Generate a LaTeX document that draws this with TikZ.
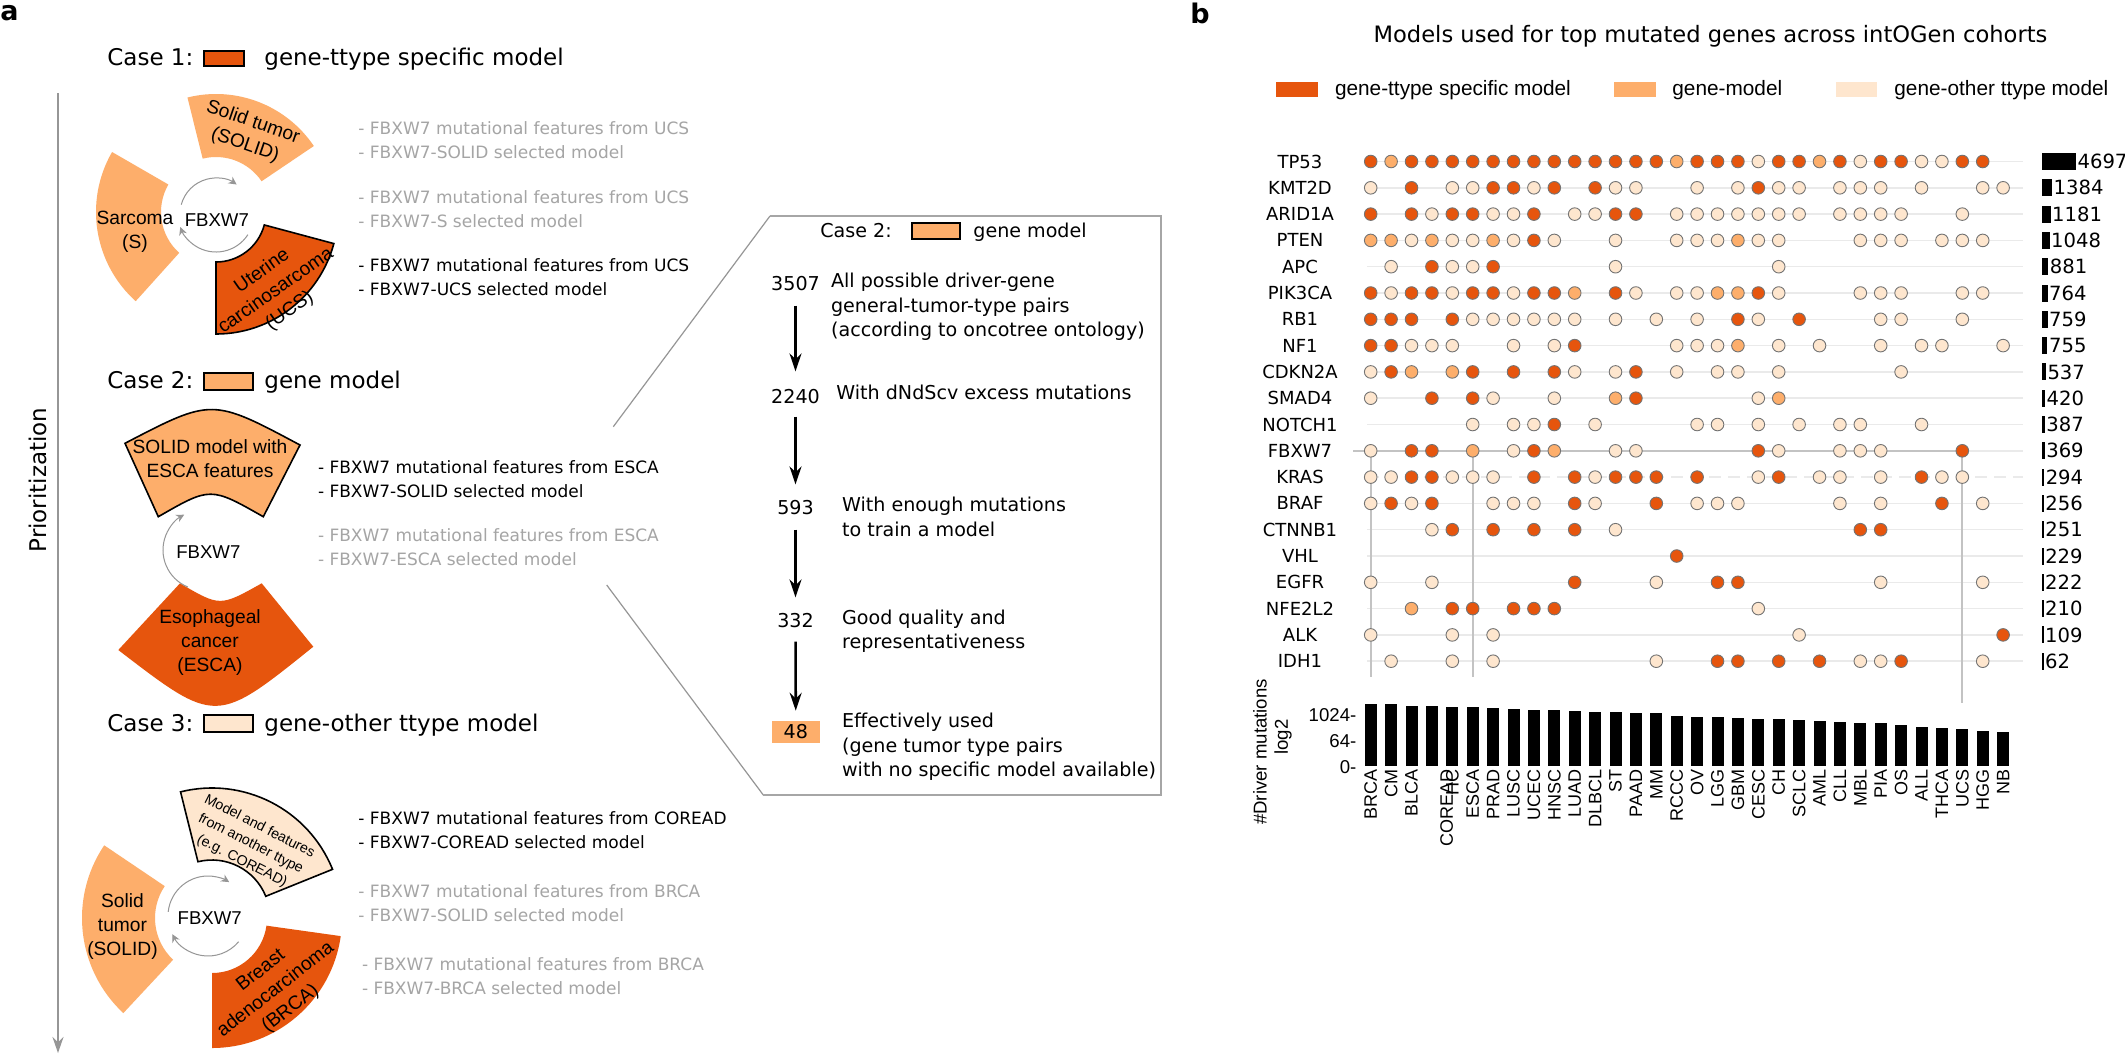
\documentclass[tikz,border=0pt]{standalone}
\usepackage{fontspec}
\setmainfont{DejaVu Sans}
\newfontfamily\arial{Liberation Sans}
\usepackage{tikz}
\usetikzlibrary{arrows.meta}

\definecolor{colD}{RGB}{230,85,13}
\definecolor{colM}{RGB}{253,174,107}
\definecolor{colL}{RGB}{254,230,206}
\colorlet{D}{colD}
\colorlet{M}{colM}
\colorlet{L}{colL}
\definecolor{txtgray}{RGB}{165,165,165}
\definecolor{rowgray}{RGB}{234,234,234}
\definecolor{hlgray}{RGB}{195,195,195}
\definecolor{linegray}{RGB}{150,150,150}

% annular sector: start angle, end angle, inner radius, outer radius
\newcommand{\ringpart}[4]{(-#1:#4) arc[start angle=-#1, end angle=-#2, radius=#4] -- (-#2:#3) arc[start angle=-#2, end angle=-#1, radius=#3] -- cycle}

\begin{document}
\begin{tikzpicture}[x=0.5pt, y=-0.5pt,
    panellab/.style={font=\bfseries\fontsize{13.5}{16}\selectfont, anchor=base west, inner sep=0pt},
    heading/.style={font=\fontsize{11.5}{14}\selectfont, anchor=base west, inner sep=0pt},
    listtext/.style={font=\fontsize{8.5}{12}\selectfont, anchor=west, align=left, inner sep=0pt},
    graytext/.style={listtext, text=txtgray},
    wedgelab/.style={font=\arial\fontsize{9.6}{12}\selectfont, align=center, inner sep=0pt},
    genetxt/.style={font=\arial\fontsize{9.3}{11}\selectfont, inner sep=0pt},
    cyclearrow/.style={-{Stealth[length=4pt,width=4pt]}, draw=linegray, line width=0.5pt},
    prioarrow/.style={-{Stealth[length=8pt,width=5.5pt]}, draw=linegray, line width=0.9pt},
    zoomline/.style={draw=linegray, line width=0.6pt},
    boxline/.style={draw=black!35, line width=0.8pt},
    boxtext/.style={font=\fontsize{9.55}{12.25}\selectfont, anchor=west, align=left, inner sep=0pt},
    numlab/.style={font=\fontsize{9.55}{12}\selectfont, inner sep=0pt},
    flowarrow/.style={-{Stealth[length=9pt,width=6pt]}, line width=1.3pt},
    legtext/.style={font=\arial\fontsize{10.4}{12}\selectfont, anchor=west, inner sep=0pt},
    genelab/.style={font=\fontsize{9}{10}\selectfont, inner sep=0pt},
    countlab/.style={font=\fontsize{9.8}{11}\selectfont, anchor=west, inner sep=0.6pt},
    rowline/.style={draw=rowgray, line width=0.75pt},
    hlline/.style={draw=hlgray, line width=0.9pt},
    dot/.style={draw=black!55, line width=0.45pt},
    collab/.style={font=\arial\fontsize{9}{10}\selectfont, rotate=90, anchor=east, inner sep=0pt},
    ticklab/.style={font=\arial\fontsize{9.3}{10}\selectfont, anchor=east, inner sep=0pt},
    axlab/.style={font=\arial\fontsize{9.3}{10}\selectfont, inner sep=0pt}]

% Frame
\fill[white] (0,0) rectangle (2125,1056);
\useasboundingbox (0,0) rectangle (2125,1056);

% Panel labels
\node[panellab] (pa) at (0,20.7) {a};
\node[panellab] (pb) at (1190,23.3) {b};

% Prioritization axis
\coordinate (prioTop) at (58,93);
\coordinate (prioEnd) at (58,1053);
\draw[prioarrow] (prioTop) -- (prioEnd);
\node[heading, anchor=center, rotate=90] (prio) at (38,480) {Prioritization};

% Case 1
\node[heading] (case1) at (107,65.7) {Case 1:};
\filldraw[fill=colD, draw=black, line width=1pt] (204,51) rectangle (244,65.7);
\node[heading] (case1txt) at (264,65.7) {gene-ttype specific model};
\begin{scope}[shift={(216,212)}]
  \fill[colM] \ringpart{34}{104}{55}{118};
  \fill[colM] \ringpart{150}{228}{55}{120};
  \filldraw[fill=colD, draw=black, line width=0.8pt] \ringpart{270}{345}{50}{122};
\end{scope}
\draw[cyclearrow] (216,214) ++(-165:36) arc[start angle=-165, end angle=-55, radius=36];
\draw[cyclearrow] (216,214) ++(33:38) arc[start angle=33, end angle=160, radius=38];
\node[wedgelab, rotate=-19] (solid1) at (249,134) {Solid tumor\\(SOLID)};
\node[wedgelab] (sarc1) at (135,231.5) {Sarcoma\\(S)};
\node[wedgelab, rotate=35] (ucs1) at (276,291) {Uterine\\carcinosarcoma\\(UCS)};
\node[genetxt] (fbxw1) at (216.8,220) {FBXW7};
\node[graytext] (l1a) at (358,140) {- FBXW7 mutational features from UCS\\- FBXW7-SOLID selected model};
\node[graytext] (l1b) at (358,209) {- FBXW7 mutational features from UCS\\- FBXW7-S selected model};
\node[listtext] (l1c) at (358,277.5) {- FBXW7 mutational features from UCS\\- FBXW7-UCS selected model};

% Case 2
\node[heading] (case2) at (107,388.3) {Case 2:};
\filldraw[fill=colM, draw=black, line width=1pt] (204,372.7) rectangle (253,390);
\node[heading] (case2txt) at (264,388.3) {gene model};
\filldraw[fill=colM, draw=black, line width=0.8pt] (263.3,516.7) .. controls (210.5,486.7) .. (158.3,516.7)
  -- (125,443.3) .. controls (212,398) .. (300,445) -- cycle;
\fill[colD] (261.7,583.3) .. controls (220,606.7) .. (180,583.3)
  -- (118.3,650) .. controls (216,725) .. (313.3,646.7) -- cycle;
\draw[cyclearrow] (203,550) ++(112:40) arc[start angle=112, end angle=242, radius=40];
\node[wedgelab] (solid2) at (210,458.3) {SOLID model with\\ESCA features};
\node[wedgelab] (esca2) at (210,642.5) {Esophageal\\cancer\\(ESCA)};
\node[genetxt] (fbxw2) at (208.3,551.7) {FBXW7};
\node[listtext] (l2a) at (317.6,479) {- FBXW7 mutational features from ESCA\\- FBXW7-SOLID selected model};
\node[graytext] (l2b) at (317.6,547) {- FBXW7 mutational features from ESCA\\- FBXW7-ESCA selected model};

% Case 3
\node[heading] (case3) at (107,731) {Case 3:};
\filldraw[fill=colL, draw=black, line width=1pt] (204,715) rectangle (253,732);
\node[heading] (case3txt) at (264,731) {gene-other ttype model};
\begin{scope}[shift={(212,918)}]
  \filldraw[fill=colL, draw=black, line width=0.8pt] \ringpart{22}{104}{58}{130};
  \fill[colM] \ringpart{146}{227}{57}{130};
  \fill[colD] \ringpart{270}{352}{55}{130};
\end{scope}
\draw[cyclearrow] (208,916) ++(-174:40) arc[start angle=-174, end angle=-58, radius=40];
\draw[cyclearrow] (208,916) ++(40:40) arc[start angle=40, end angle=153, radius=40];
\node[wedgelab, font=\arial\fontsize{7.1}{9.7}\selectfont, rotate=-27] (other3) at (250.7,844) {Model and features\\from another ttype\\(e.g. COREAD)};
\node[wedgelab] (solid3) at (122.5,926.7) {Solid\\tumor\\(SOLID)};
\node[wedgelab, rotate=38] (brca3) at (276,990) {Breast\\adenocarcinoma\\(BRCA)};
\node[genetxt] (fbxw3) at (209.7,918.3) {FBXW7};
\node[listtext] (l3a) at (358,830.5) {- FBXW7 mutational features from COREAD\\- FBXW7-COREAD selected model};
\node[graytext] (l3b) at (358,903.5) {- FBXW7 mutational features from BRCA\\- FBXW7-SOLID selected model};
\node[graytext] (l3c) at (361.6,976.5) {- FBXW7 mutational features from BRCA\\- FBXW7-BRCA selected model};

% Zoom box for case 2
\coordinate (zoomA) at (613.3,426.7);
\coordinate (zoomB) at (606.7,585);
\coordinate (boxTL) at (770,216);
\coordinate (boxTR) at (1160.7,216);
\coordinate (boxBR) at (1160.7,795);
\coordinate (boxBL) at (763.3,795);
\draw[zoomline] (zoomA) -- (boxTL);
\draw[zoomline] (zoomB) -- (boxBL);
\draw[boxline] (boxTL) -- (boxTR) -- (boxBR) -- (boxBL);
\node[numlab, anchor=base west] (case2b) at (820,237.6) {Case 2:};
\filldraw[fill=colM, draw=black, line width=1pt] (912.3,223) rectangle (960,239.4);
\node[numlab, anchor=base west] (case2btxt) at (973,237.6) {gene model};

% Filtering steps
\node[numlab] (f3507) at (795.5,284) {3507};
\node[numlab] (f2240) at (795.5,397) {2240};
\node[numlab] (f593) at (795.5,508) {593};
\node[numlab] (f332) at (795.5,621) {332};
\node[numlab, fill=colM, minimum width=24pt, minimum height=11pt] (f48) at (795.8,731.6) {48};
\draw[flowarrow, shorten <=7pt, shorten >=9pt] (f3507) -- (f2240);
\draw[flowarrow, shorten <=6pt, shorten >=8pt] (f2240) -- (f593);
\draw[flowarrow, shorten <=7pt, shorten >=8pt] (f593) -- (f332);
\draw[flowarrow, shorten <=6.5pt, shorten >=4.75pt] (f332) -- (f48);
\node[boxtext] (s3507) at (830.7,306.8) {All possible driver-gene\\general-tumor-type pairs\\(according to oncotree ontology)};
\node[boxtext] (s2240) at (836,392) {With dNdScv excess mutations};
\node[boxtext] (s593) at (841.7,516.7) {With enough mutations\\to train a model};
\node[boxtext] (s332) at (841.7,631.1) {Good quality and\\representativeness};
\node[boxtext] (s48) at (841.7,746.9) {Effectively used\\(gene tumor type pairs\\with no specific model available)};

% Panel b title and legend
\node[font=\fontsize{11.3}{13}\selectfont, inner sep=0pt] (title) at (1710.5,36) {Models used for top mutated genes across intOGen cohorts};
\fill[colD] (1275.5,82) rectangle (1318,97);
\node[legtext] (leg1) at (1334.6,90) {gene-ttype specific model};
\fill[colM] (1613.6,82) rectangle (1655.6,97);
\node[legtext] (leg2) at (1672,90) {gene-model};
\fill[colL] (1836,82) rectangle (1877,97);
\node[legtext] (leg3) at (1894,90) {gene-other ttype model};

% Rows, gene names and mutation counts
\foreach \gname/\cnt [count=\r] in {TP53/4697, KMT2D/1384, ARID1A/1181, PTEN/1048, APC/881,
    PIK3CA/764, RB1/759, NF1/755, CDKN2A/537, SMAD4/420, NOTCH1/387, FBXW7/369, KRAS/294,
    BRAF/256, CTNNB1/251, VHL/229, EGFR/222, NFE2L2/210, ALK/109, IDH1/62}{
  \pgfmathsetmacro\yy{161.5+26.3*(\r-1)}
  \pgfmathsetmacro\bw{max(\cnt*0.00724,1.5)}
  \ifnum\r=13
    \draw[rowline, dash pattern=on 6pt off 3.5pt] (1367,\yy) -- (2023,\yy);
  \else
    \draw[rowline] (1367,\yy) -- (2023,\yy);
  \fi
  \node[genelab] (g\gname) at (1300,\yy) {\gname};
  \fill (2042,\yy-8.5) rectangle ++(\bw,17);
  \node[countlab] (n\gname) at (2042+\bw,\yy) {\cnt};
}

% FBXW7 and the three cohorts
\draw[hlline] (1370.7,450.8) -- (1370.7,677);
\draw[hlline] (1472.7,450.8) -- (1472.7,677);
\draw[hlline] (1962.3,450.8) -- (1962.3,703);
\draw[hlline] (1353,450.8) -- (1962.3,450.8);

% Models per gene and cohort
\foreach \pts [count=\r] in {
    {1/D,2/M,3/D,4/D,5/D,6/D,7/D,8/D,9/D,10/D,11/D,12/D,13/D,14/D,15/D,16/M,17/D,18/D,19/D,20/L,21/D,22/D,23/M,24/D,25/L,26/D,27/D,28/L,29/L,30/D,31/D},
    {1/L,3/D,5/L,6/L,7/D,8/D,9/L,10/D,12/D,13/L,14/L,17/L,19/L,20/D,21/L,22/L,24/L,25/L,26/L,28/L,31/L,32/L},
    {1/D,3/D,4/L,5/D,6/D,7/L,8/L,9/D,11/L,12/L,13/D,14/D,16/L,17/L,18/L,19/L,20/L,21/L,22/L,24/L,25/L,26/L,27/L,30/L},
    {1/M,2/M,3/L,4/M,5/L,6/L,7/M,8/L,9/D,10/L,13/L,16/L,17/L,18/L,19/M,20/L,21/L,25/L,26/L,27/L,29/L,30/L,31/L},
    {2/L,4/D,5/L,6/L,7/D,13/L,21/L},
    {1/D,2/L,3/D,4/D,5/L,6/D,7/D,8/L,9/D,10/D,11/M,13/D,14/L,16/L,17/L,18/M,19/M,20/D,21/L,25/L,26/L,27/L,30/L,31/L},
    {1/D,2/D,3/D,5/D,6/L,7/L,8/L,9/L,10/L,11/L,13/L,15/L,17/L,19/D,20/L,22/D,26/L,27/L,30/L},
    {1/D,2/D,3/L,4/L,5/L,8/L,10/L,11/D,16/L,17/L,18/L,19/M,21/L,23/L,26/L,28/L,29/L,32/L},
    {1/L,2/D,3/M,5/M,6/D,8/D,10/D,11/L,13/L,14/D,16/L,18/L,19/L,21/L,27/L},
    {1/L,4/D,6/D,7/L,10/L,13/M,14/D,20/L,21/M},
    {6/L,8/L,9/L,10/D,12/L,17/L,18/L,20/L,22/L,24/L,25/L,28/L},
    {1/L,3/D,4/D,6/M,8/L,9/D,10/M,13/L,14/L,20/D,21/L,24/L,25/L,26/L,30/D},
    {1/L,2/L,3/D,4/D,5/L,6/L,7/L,9/D,11/D,12/L,13/D,14/D,15/D,17/D,20/L,21/D,23/L,24/L,26/L,28/D,29/L,30/L},
    {1/L,2/D,3/L,4/D,7/L,8/L,9/L,11/D,12/L,15/D,17/L,18/L,19/L,24/L,26/L,29/D,31/L},
    {4/L,5/D,7/D,9/D,11/D,13/L,25/D,26/D},
    {16/D},
    {1/L,4/L,11/D,15/L,18/D,19/D,26/L,31/L},
    {3/M,5/D,6/D,8/D,9/D,10/D,20/L},
    {1/L,5/L,7/L,22/L,32/D},
    {2/L,5/L,7/L,15/L,18/D,19/D,21/D,23/D,25/L,26/L,27/D,31/L}}{
  \pgfmathsetmacro\yy{161.5+26.3*(\r-1)}
  \foreach \cc/\ct in \pts
    \filldraw[dot, fill=\ct] ({1370.7+20.4*(\cc-1)},\yy) circle[radius=6.3];
}

% Driver mutations per cohort
\foreach \lab/\htop/\dx [count=\kk] in {BRCA/704.3/0, CM/704/0, BLCA/706/0, COREAD/706/14.8,
    HC/707/0, ESCA/707.3/0, PRAD/708.3/0, LUSC/709/0, UCEC/709.7/0, HNSC/710/0, LUAD/710.7/0,
    DLBCL/711.7/0, ST/712/0, PAAD/713.3/0, MM/713.3/0, RCCC/715.7/0, OV/716.5/0, LGG/716.7/0,
    GBM/717.7/0, CESC/719/0, CH/719/0, SCLC/719.7/0, AML/720.7/0, CLL/721.7/0, MBL/722.7/0,
    PIA/722.7/0, OS/725/0, ALL/726.7/0, THCA/727.7/0, UCS/729/0, HGG/730.7/0, NB/731.7/0}{
  \pgfmathsetmacro\xx{1370.7+20.4*(\kk-1)}
  \fill (\xx-6,\htop) rectangle (\xx+6,765.7);
  \node[collab] (c\lab) at (\xx+\dx,769) {\lab};
}
\node[ticklab] (t1024) at (1356.7,715) {1024-};
\node[ticklab] (t64) at (1356.7,741) {64-};
\node[ticklab] (t0) at (1356.7,766.7) {0-};
\node[axlab, rotate=90] (ylab1) at (1260,752) {\#Driver mutations};
\node[axlab, rotate=90] (ylab2) at (1283,737) {log2};

\end{tikzpicture}
\end{document}
